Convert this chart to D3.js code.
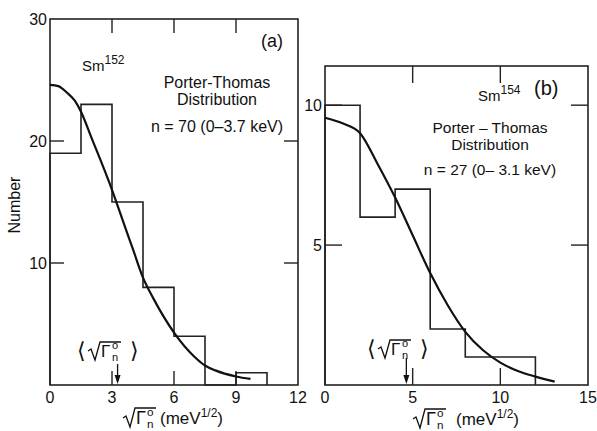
<!DOCTYPE html>
<html>
<head>
<meta charset="utf-8">
<script src="https://cdn.jsdelivr.net/npm/d3@7"></script>
<style>
  body { margin: 0; background: #fff; }
  text { font-family: "Liberation Sans", Arial, sans-serif; fill: #111; }
</style>
</head>
<body>
<div id="chart"></div>
<script>
// panel (a): Sm152
var binsA = [0, 1.5, 3, 4.5, 6, 7.5, 9, 10.5];
var countsA = [19, 23, 15, 8, 4, 0, 1];
var curveAx = [0, 0.4, 0.8, 1.2, 1.5, 2, 3, 3.6, 4, 4.5, 5, 6, 7, 7.5, 8, 9, 9.7];
var curveAy = [24.6, 24.5, 24.0, 23.3, 22.4, 20.3, 16.0, 13.1, 11.2, 8.8, 7.1, 4.3, 2.3, 1.6, 1.2, 0.7, 0.5];
var xTicksA = [0, 3, 6, 9, 12];
var yTicksA = [10, 20, 30];
var meanA = 3.27;

// panel (b): Sm154
var binsB = [0, 2, 4, 6, 8, 10, 12];
var countsB = [10, 6, 7, 2, 1, 1];
var curveBx = [0, 1, 2, 3, 4, 5, 6, 7, 8, 9, 10, 11, 12, 13.1];
var curveBy = [9.55, 9.35, 9.0, 7.9, 6.7, 5.35, 4.0, 2.85, 1.9, 1.25, 0.8, 0.5, 0.3, 0.12];
var xTicksB = [0, 5, 10, 15];
var yTicksB = [5, 10];
var meanB = 4.64;

var svg = d3.select("#chart")
  .append("svg")
    .attr("width", 597)
    .attr("height", 431);

// radical + Gamma_n^o, (x0, y0) = start of radical / text baseline
function sqrtGamma(g, x0, y0, fs) {
  var top = y0 - fs + 2;
  g.append("path")
    .attr("d", "M" + x0 + "," + (y0 - 6) + "L" + (x0 + 3) + "," + (y0 - 8) +
      "L" + (x0 + 7) + "," + (y0 + 3) + "L" + (x0 + 12) + "," + top + "L" + (x0 + 33) + "," + top)
    .attr("fill", "none").attr("stroke", "#111").attr("stroke-width", 1.3);
  g.append("text").attr("x", x0 + 13).attr("y", y0).style("font-size", fs + "px").text("\u0393");
  g.append("text").attr("x", x0 + 24).attr("y", y0 - fs * 0.45).style("font-size", (fs * 0.65) + "px").text("o");
  g.append("text").attr("x", x0 + 24).attr("y", y0 + 4).style("font-size", (fs * 0.65) + "px").text("n");
}

function drawPanel(p) {
  var x = d3.scaleLinear().domain(p.xDomain).range([p.left, p.right]);
  var y = d3.scaleLinear().domain(p.yDomain).range([p.bottom, p.top]);
  var g = svg.append("g");

  // frame
  g.append("rect")
    .attr("x", p.left).attr("y", p.top)
    .attr("width", p.right - p.left).attr("height", p.bottom - p.top)
    .attr("fill", "none").attr("stroke", "#222").attr("stroke-width", 1.6);

  // inward ticks on all four sides
  var tl = p.tickLen;
  p.xTicks.forEach(function(t) {
    if (t === p.xDomain[0] || t === p.xDomain[1]) return;
    g.append("line").attr("x1", x(t)).attr("x2", x(t)).attr("y1", p.bottom).attr("y2", p.bottom - tl)
      .attr("stroke", "#222").attr("stroke-width", 1.4);
    g.append("line").attr("x1", x(t)).attr("x2", x(t)).attr("y1", p.top).attr("y2", p.top + tl)
      .attr("stroke", "#222").attr("stroke-width", 1.4);
  });
  p.yTicks.forEach(function(t) {
    if (y(t) <= p.top + 1) return;
    g.append("line").attr("x1", p.left).attr("x2", p.left + tl).attr("y1", y(t)).attr("y2", y(t))
      .attr("stroke", "#222").attr("stroke-width", 1.4);
    g.append("line").attr("x1", p.right).attr("x2", p.right - tl).attr("y1", y(t)).attr("y2", y(t))
      .attr("stroke", "#222").attr("stroke-width", 1.4);
  });

  // tick labels
  g.selectAll(".xl").data(p.xTicks).enter().append("text")
    .attr("x", function(d) { return x(d); })
    .attr("y", p.bottom + 18)
    .attr("text-anchor", "middle")
    .style("font-size", "16px")
    .text(function(d) { return d; });
  g.selectAll(".yl").data(p.yTicks).enter().append("text")
    .attr("x", p.left - 3)
    .attr("y", function(d) { return y(d) + 6; })
    .attr("text-anchor", "end")
    .style("font-size", "16px")
    .text(function(d) { return d; });

  // histogram as step outline
  var pts = [[p.bins[0], 0]];
  p.counts.forEach(function(c, i) {
    pts.push([p.bins[i], c]);
    pts.push([p.bins[i + 1], c]);
  });
  pts.push([p.bins[p.bins.length - 1], 0]);
  g.append("path")
    .datum(pts)
    .attr("fill", "none").attr("stroke", "#222").attr("stroke-width", 1.6)
    .attr("d", d3.line().x(function(d) { return x(d[0]); }).y(function(d) { return y(d[1]); }));

  // Porter-Thomas curve
  var cpts = p.cx.map(function(v, i) { return [v, p.cy[i]]; });
  g.append("path")
    .datum(cpts)
    .attr("fill", "none").attr("stroke", "#111").attr("stroke-width", 2.2)
    .attr("d", d3.line().curve(d3.curveMonotoneX)
      .x(function(d) { return x(d[0]); }).y(function(d) { return y(d[1]); }));

  // mean arrow and its label
  var mx = x(p.mean);
  g.append("line").attr("x1", mx).attr("x2", mx).attr("y1", p.bottom - p.arrowLen).attr("y2", p.bottom - 4)
    .attr("stroke", "#111").attr("stroke-width", 1.3);
  g.append("path")
    .attr("d", "M" + (mx - 3) + "," + (p.bottom - 10) + "L" + mx + "," + (p.bottom - 1) + "L" + (mx + 3) + "," + (p.bottom - 10) + "Z")
    .attr("fill", "#111");
  g.append("text").attr("x", p.meanLabelX).attr("y", p.meanLabelY)
    .style("font-size", "22px").text("\u27E8");
  sqrtGamma(g, p.meanLabelX + 11, p.meanLabelY - 1, 17);
  g.append("text").attr("x", p.meanLabelX + 53).attr("y", p.meanLabelY)
    .style("font-size", "22px").text("\u27E9");

  // x axis title
  sqrtGamma(g, p.titleX, p.titleY, 18);
  var tt = g.append("text")
    .attr("x", p.titleX + p.unitGap).attr("y", p.titleY)
    .style("font-size", "17px")
    .text("(meV");
  tt.append("tspan").attr("dy", -7).style("font-size", "12px").text("1/2");
  tt.append("tspan").attr("dy", 7).style("font-size", "17px").text(")");

  // annotations
  g.append("text").attr("x", p.tagX).attr("y", p.tagY)
    .style("font-size", p.tagSize).text(p.tag);
  var sm = g.append("text").attr("x", p.smX).attr("y", p.smY).style("font-size", "15px").text("Sm");
  sm.append("tspan").attr("dy", -7).style("font-size", "12px").text(p.iso);
  p.lines.forEach(function(l, i) {
    g.append("text").attr("x", p.textX).attr("y", p.textY[i])
      .attr("text-anchor", "middle").style("font-size", p.textSize).text(l);
  });
}

drawPanel({
  left: 50, right: 298, top: 19, bottom: 385, tickLen: 14,
  xDomain: [0, 12], yDomain: [0, 30],
  xTicks: xTicksA, yTicks: yTicksA,
  bins: binsA, counts: countsA, cx: curveAx, cy: curveAy,
  mean: meanA, arrowLen: 21, meanLabelX: 77, meanLabelY: 358,
  titleX: 123, titleY: 424, unitGap: 37,
  tag: "(a)", tagX: 261, tagY: 47, tagSize: "18px",
  iso: "152", smX: 82, smY: 71,
  lines: ["Porter-Thomas", "Distribution", "n = 70  (0\u20133.7 keV)"],
  textX: 217, textY: [88, 105, 132], textSize: "16px"
});

drawPanel({
  left: 325, right: 588, top: 66, bottom: 385, tickLen: 17,
  xDomain: [0, 15], yDomain: [0, 11.4],
  xTicks: xTicksB, yTicks: yTicksB,
  bins: binsB, counts: countsB, cx: curveBx, cy: curveBy,
  mean: meanB, arrowLen: 27, meanLabelX: 367, meanLabelY: 356,
  titleX: 413, titleY: 425, unitGap: 43,
  tag: "(b)", tagX: 534, tagY: 95, tagSize: "20px",
  iso: "154", smX: 478, smY: 101,
  lines: ["Porter \u2013 Thomas", "Distribution", "n = 27  (0\u2013 3.1 keV)"],
  textX: 490, textY: [133, 150, 175], textSize: "15.5px"
});

// y axis title
svg.append("text")
  .attr("transform", "translate(20,205)rotate(-90)")
  .attr("text-anchor", "middle")
  .style("font-size", "16px")
  .text("Number");
</script>
</body>
</html>
